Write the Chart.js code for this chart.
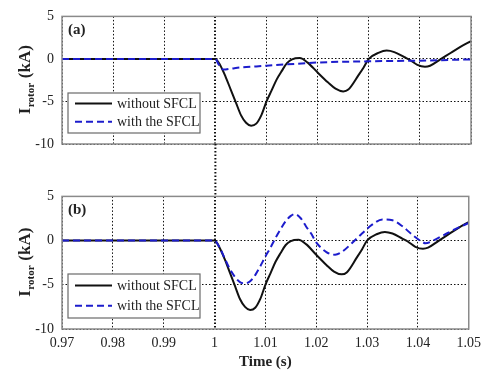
<!DOCTYPE html>
<html>
<head>
<meta charset="utf-8">
<script src="https://cdn.jsdelivr.net/npm/chart.js@4.4.1/dist/chart.umd.min.js"></script>
<style>
  html, body { margin: 0; padding: 0; background: #ffffff; }
  #wrap { position: relative; width: 487px; height: 371px; overflow: hidden; }
  #wrap canvas { position: absolute; left: 0; }
</style>
</head>
<body>
<div id="wrap">
  <canvas id="panelA" width="487" height="196" style="top:0px"></canvas>
  <canvas id="panelB" width="487" height="191" style="top:180px"></canvas>
</div>
<script>
// ---- data ----
const timeWithout = [0.97, 0.98, 0.99, 1.0, 1.001, 1.002, 1.003, 1.004, 1.005, 1.006, 1.007, 1.008,
    1.009, 1.010, 1.011, 1.012, 1.013, 1.014, 1.015, 1.0165, 1.018, 1.020, 1.022, 1.0235, 1.025,
    1.026, 1.028, 1.029, 1.030, 1.032, 1.0335, 1.035, 1.037, 1.038, 1.0395, 1.041, 1.042, 1.044,
    1.046, 1.048, 1.05];
const currWithout = [0, 0, 0, 0, -0.8, -2.1, -3.6, -5.1, -6.6, -7.5, -7.85, -7.6,
    -6.6, -5.0, -3.7, -2.4, -1.4, -0.5, -0.05, 0.1, -0.4, -1.6, -2.75, -3.5, -3.82,
    -3.6, -1.9, -1.0, 0.0, 0.75, 0.98, 0.8, 0.2, -0.1, -0.7, -0.92, -0.8, -0.05,
    0.7, 1.45, 2.1];

// (a) with the SFCL
const timeWithA = [0.97, 0.98, 0.99, 1.0, 1.0006, 1.0016, 1.003, 1.005, 1.008, 1.014, 1.020, 1.030, 1.040, 1.05];
const currWithA = [0, 0, 0, 0, -0.6, -1.25, -1.15, -1.0, -0.88, -0.64, -0.42, -0.28, -0.2, -0.05];

// (b) with the SFCL
const timeWithB = [0.97, 0.98, 0.99, 1.0, 1.001, 1.002, 1.003, 1.004, 1.005, 1.006, 1.007, 1.008,
    1.009, 1.010, 1.011, 1.012, 1.013, 1.014, 1.015, 1.0158, 1.017, 1.018, 1.019, 1.020, 1.022,
    1.0237, 1.025, 1.027, 1.029, 1.031, 1.033, 1.035, 1.037, 1.039, 1.041, 1.0415, 1.043, 1.045,
    1.047, 1.05];
const currWithB = [0, 0, 0, 0, -0.8, -2.0, -3.2, -4.1, -4.7, -4.85, -4.6, -3.9,
    -2.9, -1.8, -0.8, 0.3, 1.3, 2.2, 2.8, 3.0, 2.5, 1.6, 0.8, -0.2, -1.3,
    -1.6, -1.3, -0.3, 0.8, 1.8, 2.4, 2.3, 1.6, 0.6, -0.2, -0.3, 0.0, 0.6,
    1.2, 2.0];

const xTickValues = [0.97, 0.98, 0.99, 1.0, 1.01, 1.02, 1.03, 1.04, 1.05];
const xTickLabels = ['0.97', '0.98', '0.99', '1', '1.01', '1.02', '1.03', '1.04', '1.05'];
const yTickValues = [5, 0, -5, -10];
const yTickLabels = ['5', '0', '-5', '-10'];
const seriesLabels = ['without SFCL', 'with the SFCL'];
const panelLabels = ['(a)', '(b)'];
const faultTime = 1.0;

const SERIF = "'Liberation Serif', 'Times New Roman', serif";
const BLACK = '#111111';
const BLUE = '#1c1ccc';

function toPoints(xs, ys) {
    return xs.map((x, i) => ({ x: x, y: ys[i] }));
}

// frame, legend, panel label, y title, fault marker
const decorPlugin = {
    id: 'decor',
    afterDraw(chart, args, opts) {
        const { ctx, chartArea: a, scales } = chart;
        ctx.save();

        // axes frame
        ctx.strokeStyle = '#8a8a8a';
        ctx.lineWidth = 1.5;
        ctx.strokeRect(a.left, a.top, a.right - a.left, a.bottom - a.top);

        // dotted fault line running on below the top panel
        if (opts.extendFault) {
            const fx = scales.x.getPixelForValue(faultTime);
            ctx.strokeStyle = BLACK;
            ctx.lineWidth = 2;
            ctx.setLineDash([1.5, 2]);
            ctx.beginPath();
            ctx.moveTo(fx, a.bottom);
            ctx.lineTo(fx, chart.height);
            ctx.stroke();
            ctx.setLineDash([]);
        }

        // panel label
        ctx.fillStyle = '#222';
        ctx.font = 'bold 15px ' + SERIF;
        ctx.textAlign = 'left';
        ctx.textBaseline = 'middle';
        ctx.fillText(opts.panel, a.left + 6, a.top + 14);

        // legend box
        const bx = a.left + 6, bw = 132, bh = opts.boxH;
        const by = a.bottom - 11 - bh;
        ctx.fillStyle = '#ffffff';
        ctx.fillRect(bx, by, bw, bh);
        ctx.strokeStyle = '#6a6a6a';
        ctx.lineWidth = 1.2;
        ctx.strokeRect(bx, by, bw, bh);
        const rows = [by + bh * 0.26, by + bh * 0.72];
        [0, 1].forEach(i => {
            const ds = chart.data.datasets[i];
            ctx.strokeStyle = ds.borderColor;
            ctx.lineWidth = 2;
            ctx.setLineDash(ds.borderDash || []);
            ctx.beginPath();
            ctx.moveTo(bx + 7, rows[i]);
            ctx.lineTo(bx + 44, rows[i]);
            ctx.stroke();
            ctx.setLineDash([]);
            ctx.fillStyle = '#222';
            ctx.font = '14px ' + SERIF;
            ctx.textBaseline = 'middle';
            ctx.fillText(ds.label, bx + 49, rows[i] + 1);
        });

        // y title: I_rotor (kA)
        const cy = (a.top + a.bottom) / 2;
        ctx.translate(25, cy);
        ctx.rotate(-Math.PI / 2);
        ctx.fillStyle = '#222';
        ctx.textBaseline = 'alphabetic';
        const partI = 'I', partSub = 'rotor', partUnit = ' (kA)';
        ctx.font = 'bold 17px ' + SERIF;
        const wI = ctx.measureText(partI).width;
        const wU = ctx.measureText(partUnit).width;
        ctx.font = 'bold 11px ' + SERIF;
        const wS = ctx.measureText(partSub).width;
        let x0 = -(wI + wS + wU) / 2;
        ctx.font = 'bold 17px ' + SERIF;
        ctx.fillText(partI, x0, 5);
        ctx.font = 'bold 11px ' + SERIF;
        ctx.fillText(partSub, x0 + wI + 0.5, 9);
        ctx.font = 'bold 17px ' + SERIF;
        ctx.fillText(partUnit, x0 + wI + wS + 1, 5);

        ctx.restore();
    }
};

function makePanel(canvasId, idx, withTimes, withCurr, isBottom) {
    const ctx = document.getElementById(canvasId);
    return new Chart(ctx, {
        type: 'line',
        data: {
            datasets: [{
                label: seriesLabels[0],
                data: toPoints(timeWithout, currWithout),
                borderColor: BLACK,
                borderWidth: 2,
                pointRadius: 0,
                cubicInterpolationMode: 'monotone',
                order: 1
            }, {
                label: seriesLabels[1],
                data: toPoints(withTimes, withCurr),
                borderColor: BLUE,
                borderWidth: 2,
                borderDash: [7, 4],
                pointRadius: 0,
                cubicInterpolationMode: 'monotone',
                order: 0
            }]
        },
        options: {
            responsive: false,
            animation: false,
            events: [],
            layout: { padding: { top: isBottom ? 16 : 12, right: 16, left: 0, bottom: 0 } },
            plugins: {
                legend: { display: false },
                tooltip: { enabled: false },
                decor: { panel: panelLabels[idx], extendFault: !isBottom, boxH: isBottom ? 44 : 40 }
            },
            scales: {
                x: {
                    type: 'linear',
                    min: xTickValues[0],
                    max: xTickValues[xTickValues.length - 1],
                    afterBuildTicks: s => { s.ticks = xTickValues.map(v => ({ value: v })); },
                    afterFit: s => { s.height = isBottom ? 42 : 52; },
                    grid: {
                        drawTicks: false,
                        color: BLACK,
                        lineWidth: c => (c.tick && Math.abs(c.tick.value - faultTime) < 1e-9) ? 2 : 1
                    },
                    border: { display: false, dash: [1.5, 2] },
                    ticks: {
                        display: isBottom,
                        padding: 6,
                        color: '#222',
                        font: { family: SERIF, size: 14 },
                        callback: (v, i) => xTickLabels[i]
                    },
                    title: {
                        display: isBottom,
                        text: 'Time (s)',
                        color: '#222',
                        font: { family: SERIF, size: 15, weight: 'bold' },
                        padding: { top: 0, bottom: 0 }
                    }
                },
                y: {
                    min: yTickValues[yTickValues.length - 1],
                    max: yTickValues[0],
                    afterBuildTicks: s => { s.ticks = yTickValues.map(v => ({ value: v })); },
                    afterFit: s => { s.width = 62; },
                    grid: { drawTicks: false, color: BLACK, lineWidth: 1 },
                    border: { display: false, dash: [1.5, 2] },
                    ticks: {
                        padding: 8,
                        color: '#222',
                        font: { family: SERIF, size: 14 },
                        callback: (v, i) => yTickLabels[i]
                    }
                }
            }
        },
        plugins: [decorPlugin]
    });
}

makePanel('panelA', 0, timeWithA, currWithA, false);
makePanel('panelB', 1, timeWithB, currWithB, true);
</script>
</body>
</html>
